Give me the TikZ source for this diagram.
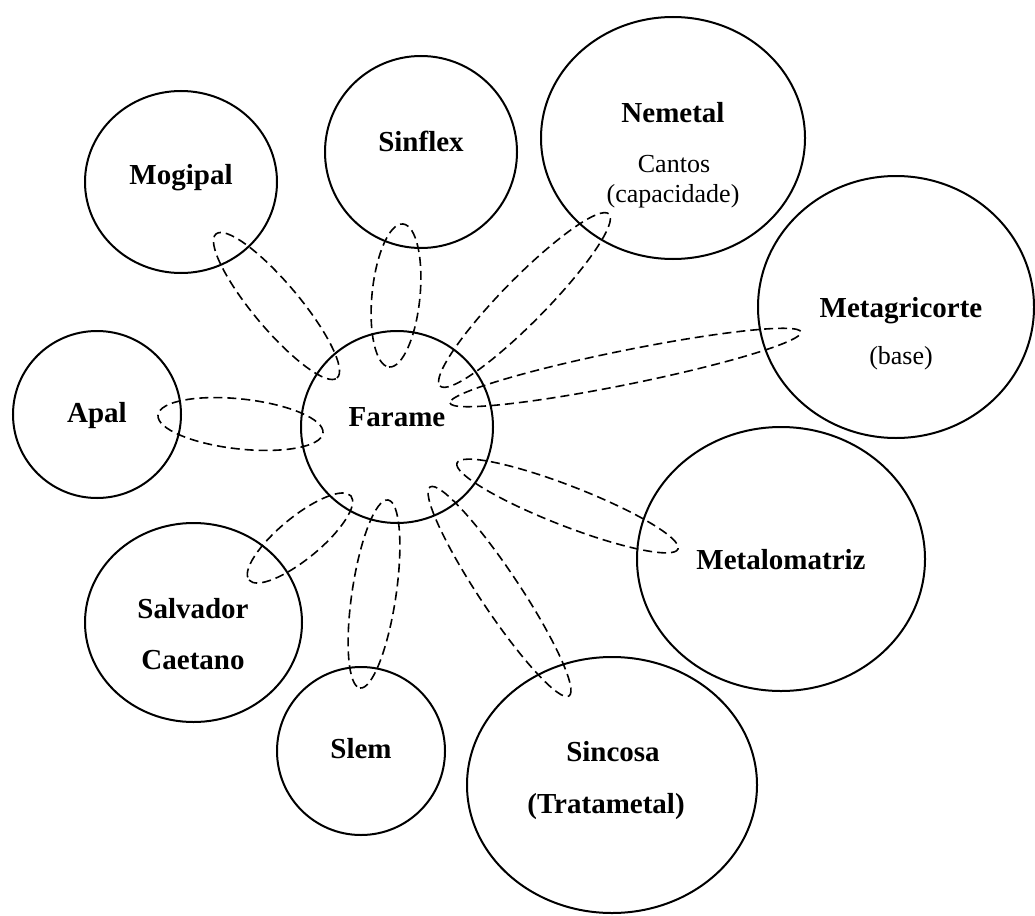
\documentclass[tikz,border=0pt]{standalone}
\usepackage{fontspec}
\setmainfont{Liberation Serif}
\usetikzlibrary{shapes.geometric,calc}
\newcommand\grouplink[3]{%
  \draw[lnk] let \p1=(#1), \p2=(#2),
     \n1={atan2(\y2-\y1,\x2-\x1)}, \n2={veclen(\x2-\x1,\y2-\y1)/2} in
     ($(#1)!0.5!(#2)$) circle [x radius=\n2, y radius=#3 pt, rotate=\n1];}
\begin{document}
\begin{tikzpicture}[x=1pt,y=-1pt,
  org/.style={ellipse,draw,line width=2pt,inner sep=0pt},
  lbl/.style={font=\fontsize{29}{29}\selectfont\bfseries,anchor=base,inner sep=0pt},
  sub/.style={font=\fontsize{26}{26}\selectfont,anchor=base,inner sep=0pt},
  lnk/.style={line width=1.6pt,dash pattern=on 9pt off 5pt}]
\useasboundingbox (0,0) rectangle (1035,915);

% organisations
\node[org,minimum width=192pt,minimum height=192pt] (farame)   at (397,427) {};
\node[org,minimum width=192pt,minimum height=182pt] (mogipal)  at (181,182) {};
\node[org,minimum width=192pt,minimum height=192pt] (sinflex)  at (421,152) {};
\node[org,minimum width=264pt,minimum height=242pt] (nemetal)  at (673,138) {};
\node[org,minimum width=276pt,minimum height=262pt] (metagri)  at (896,307) {};
\node[org,minimum width=168pt,minimum height=167pt] (apal)     at (97,414.5) {};
\node[org,minimum width=288pt,minimum height=264pt] (metalo)   at (781,559) {};
\node[org,minimum width=217pt,minimum height=199pt] (salvador) at (193.5,622.5) {};
\node[org,minimum width=168pt,minimum height=168pt] (slem)     at (361,751) {};
\node[org,minimum width=290pt,minimum height=256pt] (sincosa)  at (612,785) {};

% labels
\node[lbl] (farame-t)   at (397,426) {Farame};
\node[lbl] (mogipal-t)  at (181,184) {Mogipal};
\node[lbl] (sinflex-t)  at (421,151) {Sinflex};
\node[lbl] (nemetal-t)  at (673,122) {Nemetal};
\node[sub] (nemetal-s1) at (674,172) {Cantos};
\node[sub] (nemetal-s2) at (673,202) {(capacidade)};
\node[lbl] (metagri-t)  at (901,317) {Metagricorte};
\node[sub] (metagri-s)  at (901,364) {(base)};
\node[lbl] (apal-t)     at (97,422) {Apal};
\node[lbl] (metalo-t)   at (781,569) {Metalomatriz};
\node[lbl] (salvador-t1) at (193,618) {Salvador};
\node[lbl] (salvador-t2) at (193,669) {Caetano};
\node[lbl] (slem-t)     at (361,758) {Slem};
\node[lbl] (sincosa-t1) at (613,761) {Sincosa};
\node[lbl] (sincosa-t2) at (606,813) {(Tratametal)};

% tips of the dashed groupings
\coordinate (mogA) at (216,234);  \coordinate (mogB) at (337,378);
\coordinate (sinA) at (403,224);  \coordinate (sinB) at (389,367);
\coordinate (nemA) at (609,214);  \coordinate (nemB) at (440,386);
\coordinate (metA) at (801,332);  \coordinate (metB) at (450,403);
\coordinate (apaA) at (158,415);  \coordinate (apaB) at (323,433);
\coordinate (malA) at (678,549);  \coordinate (malB) at (457,463);
\coordinate (salA) at (351,496);  \coordinate (salB) at (249,580);
\coordinate (sleA) at (388,500);  \coordinate (sleB) at (360,688);
\coordinate (sicA) at (430,487);  \coordinate (sicB) at (569,696);

\grouplink{mogA}{mogB}{23}
\grouplink{sinA}{sinB}{24}
\grouplink{nemA}{nemB}{22}
\grouplink{metA}{metB}{17}
\grouplink{apaA}{apaB}{25}
\grouplink{malA}{malB}{20}
\grouplink{salA}{salB}{21}
\grouplink{sleA}{sleB}{22}
\grouplink{sicA}{sicB}{20}
\end{tikzpicture}
\end{document}
